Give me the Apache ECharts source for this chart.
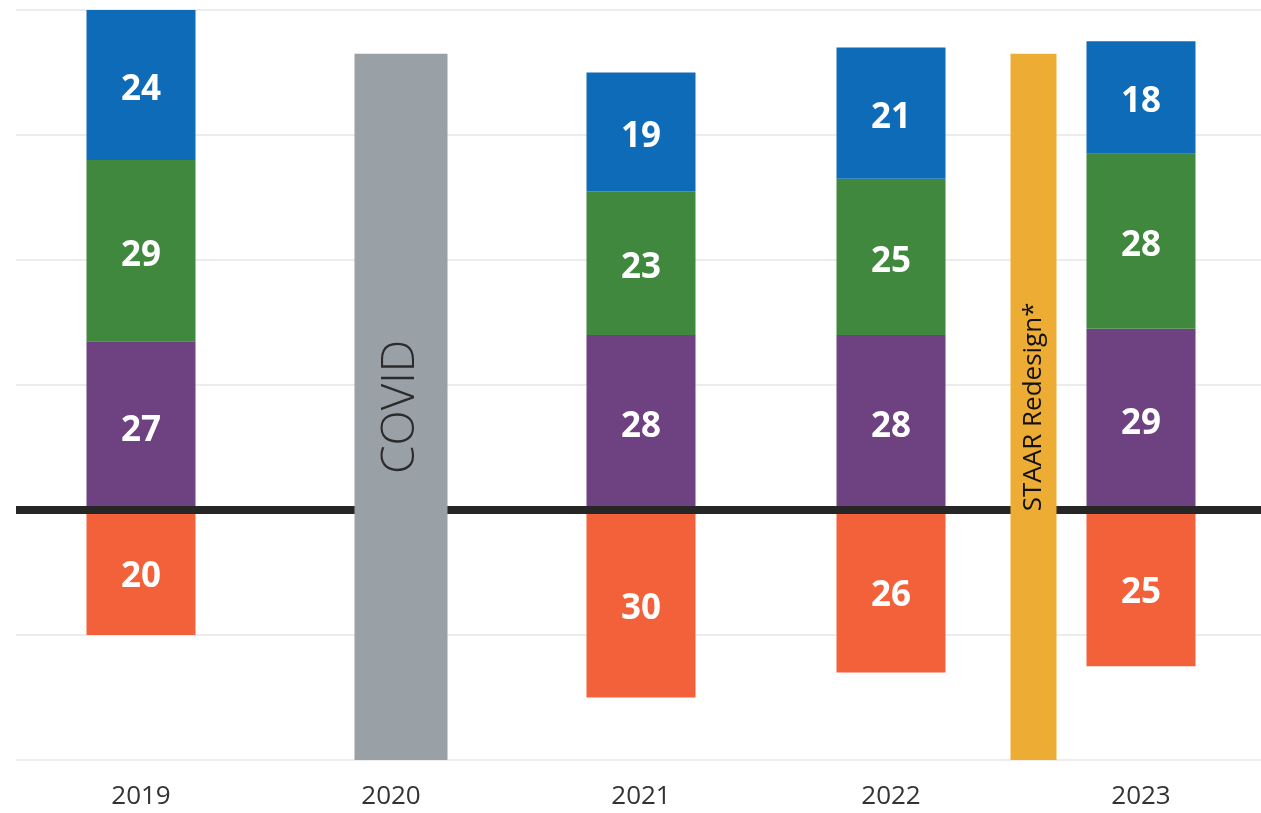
<!DOCTYPE html>
<html>
<head>
<meta charset="utf-8">
<style>html,body{margin:0;padding:0;background:#fff}#c{width:1261px;height:813px}</style>
<script src="https://cdn.jsdelivr.net/npm/echarts@6/dist/echarts.min.js"></script>
</head>
<body>
<div id="c"></div>
<script>
// ---- data ----
var years = ['2019', '2020', '2021', '2022', '2023'];
var purple = [27, null, 28, 28, 29];
var green  = [29, null, 23, 25, 28];
var blue   = [24, null, 19, 21, 18];
var orange = [-20, null, -30, -26, -25];
// special bars: [x position on year scale, height measured from axis bottom (-40)]
var covidBar = [[1.04, 113]];
var staarBar = [[3.57, 113]];
var yTicks = [-40, -20, 0, 20, 40, 60, 80];

var chart = echarts.init(document.getElementById('c'), null, {renderer: 'canvas'});
var labelStyle = {
  show: true, position: 'inside', color: '#fff', offset: [0, 5],
  fontFamily: 'Open Sans', fontWeight: 'bold', fontSize: 35,
  formatter: function (p) { return Math.abs(p.value); }
};
function mainSeries(data, color, extra) {
  var s = {
    type: 'bar', stack: 'a', data: data, barWidth: 109,
    xAxisIndex: 0, yAxisIndex: 0,
    itemStyle: {color: color}, label: labelStyle, z: 2
  };
  for (var k in extra) s[k] = extra[k];
  return s;
}
var hiddenX = {type: 'value', min: -0.5, max: 4.5, show: false};
chart.setOption({
  animation: false,
  grid: {left: 16, right: -5, top: 10, bottom: 53, containLabel: false, outerBoundsMode: 'none'},
  xAxis: [
    {type: 'category', data: years, position: 'bottom',
     axisLine: {show: false, onZero: false}, axisTick: {show: false},
     axisLabel: {color: '#333', fontFamily: 'Open Sans', fontSize: 26, margin: 24}},
    hiddenX,
    Object.assign({}, hiddenX)
  ],
  yAxis: [
    {type: 'value', min: yTicks[0], max: yTicks[yTicks.length - 1], interval: 20,
     axisLabel: {show: false}, axisLine: {show: false}, axisTick: {show: false},
     splitLine: {show: true, lineStyle: {color: '#e6e6e6', width: 1.5}}},
    {type: 'value', min: 0, max: 120, show: false}
  ],
  series: [
    mainSeries(purple, '#6E4180', {
      markLine: {silent: true, symbol: 'none', z: 5,
        label: {show: false},
        lineStyle: {color: '#262626', width: 8, type: 'solid'},
        data: [{yAxis: 0}]}
    }),
    mainSeries(green, '#41883F', {}),
    mainSeries(blue, '#0E6BB8', {}),
    mainSeries(orange, '#F3613A', {}),
    {type: 'bar', data: covidBar, xAxisIndex: 1, yAxisIndex: 1, barWidth: 93, z: 6,
     itemStyle: {color: '#99A0A6'},
     label: {show: true, position: 'inside', rotate: 90, formatter: 'COVID',
       color: '#2b2b2b', fontFamily: 'Open Sans', fontWeight: 300, fontSize: 46}},
    {type: 'bar', data: staarBar, xAxisIndex: 2, yAxisIndex: 1, barWidth: 46, z: 6,
     itemStyle: {color: '#EDAD34'},
     label: {show: true, position: 'inside', rotate: 90, formatter: 'STAAR Redesign*',
       color: '#111', fontFamily: 'Open Sans', fontSize: 26}}
  ]
});
</script>
</body>
</html>
